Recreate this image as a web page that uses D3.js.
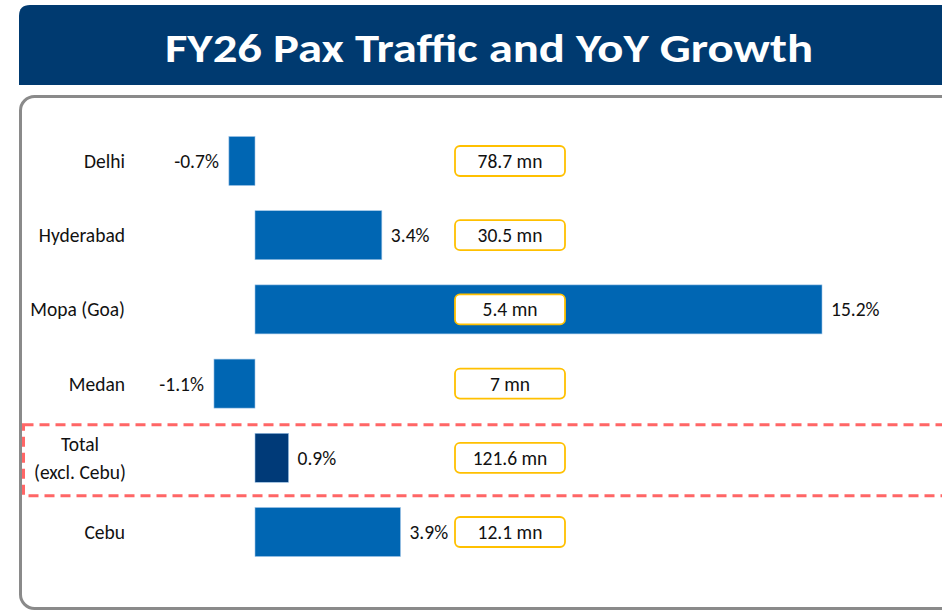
<!DOCTYPE html>
<html>
<head>
<meta charset="utf-8">
<script src="https://cdn.jsdelivr.net/npm/d3@7"></script>
<style>
	body { margin: 0; background: #fff; }
	svg text { font-family: Carlito, Lato, "Liberation Sans", sans-serif; fill: #111; }
</style>
</head>
<body>
<svg id="vis" width="942" height="612"></svg>
<script>
// airports, yoy growth (%), FY26 pax (mn)
const airports = ["Delhi", "Hyderabad", "Mopa (Goa)", "Medan", "Total\n(excl. Cebu)", "Cebu"];
const growth = [-0.7, 3.4, 15.2, -1.1, 0.9, 3.9];
const pax = [78.7, 30.5, 5.4, 7, 121.6, 12.1];
const highlight = "Total\n(excl. Cebu)";
const title = "FY26 Pax Traffic and YoY Growth";

const svg = d3.select("svg#vis");

// title band, rounded only on the top left
svg.append("path")
	.attr("d", "M19,85 L19,16 Q19,5 30,5 L942,5 L942,85 Z")
	.attr("fill", "#003a70");

svg.append("text")
	.attr("x", 489)
	.attr("y", 62)
	.attr("text-anchor", "middle")
	.attr("textLength", 648)
	.attr("lengthAdjust", "spacingAndGlyphs")
	.style("font-size", "41px")
	.style("font-weight", "bold")
	.style("fill", "#fff")
	.text(title);

// grey panel, runs off the right edge
svg.append("rect")
	.attr("x", 20.5)
	.attr("y", 96.5)
	.attr("width", 960)
	.attr("height", 512)
	.attr("rx", 14)
	.attr("fill", "none")
	.attr("stroke", "#8a8a8a")
	.attr("stroke-width", 3);

const x = d3.scaleLinear()
	.domain([0, d3.max(growth)])
	.range([255, 822]);

const y = d3.scalePoint()
	.domain(airports)
	.range([161, 532]);

const barH = 49;
const fs = "19.5px";
const rows = airports.map((a, i) => ({name: a, g: growth[i], p: pax[i]}));

// dashed highlight around the total row
svg.append("rect")
	.attr("x", 23.5)
	.attr("y", y(highlight) - 33)
	.attr("width", 940)
	.attr("height", 71)
	.attr("fill", "none")
	.attr("stroke", "#ff6666")
	.attr("stroke-width", 3)
	.attr("stroke-dasharray", "10,6");

const row = svg.selectAll("g.row")
	.data(rows)
	.enter()
	.append("g")
	.attr("class", "row");

row.append("rect")
	.attr("x", d => x(Math.min(0, d.g)))
	.attr("y", d => y(d.name) - barH / 2)
	.attr("width", d => Math.abs(x(d.g) - x(0)))
	.attr("height", barH)
	.attr("fill", d => d.name == highlight ? "#003a78" : "#0066b3")
	.attr("stroke", "#9dc3e6")
	.attr("stroke-width", 0.6);

// airport names, right aligned, total one centred on two lines
row.each(function(d) {
	const lines = d.name.split("\n");
	const t = d3.select(this).append("text")
		.style("font-size", fs)
		.attr("text-anchor", lines.length > 1 ? "middle" : "end");
	lines.forEach((l, i) => {
		t.append("tspan")
			.attr("x", lines.length > 1 ? 80 : 125)
			.attr("y", y(d.name) + 7 + (i - (lines.length - 1) / 2) * 28)
			.text(l);
	});
});

// growth labels (plain hyphen for negatives, like the original)
row.append("text")
	.attr("x", d => d.g < 0 ? x(d.g) - 10 : x(d.g) + 9)
	.attr("y", d => y(d.name) + 7)
	.attr("text-anchor", d => d.g < 0 ? "end" : "start")
	.style("font-size", fs)
	.text(d => d.g.toFixed(1) + "%");

// pax boxes
row.append("rect")
	.attr("x", 455)
	.attr("y", d => y(d.name) - 15)
	.attr("width", 110)
	.attr("height", 30)
	.attr("rx", 5)
	.attr("fill", "#fff")
	.attr("stroke", "#ffc000")
	.attr("stroke-width", 1.8);

row.append("text")
	.attr("x", 510)
	.attr("y", d => y(d.name) + 7)
	.attr("text-anchor", "middle")
	.style("font-size", fs)
	.text(d => d.p + " mn");
</script>
</body>
</html>
